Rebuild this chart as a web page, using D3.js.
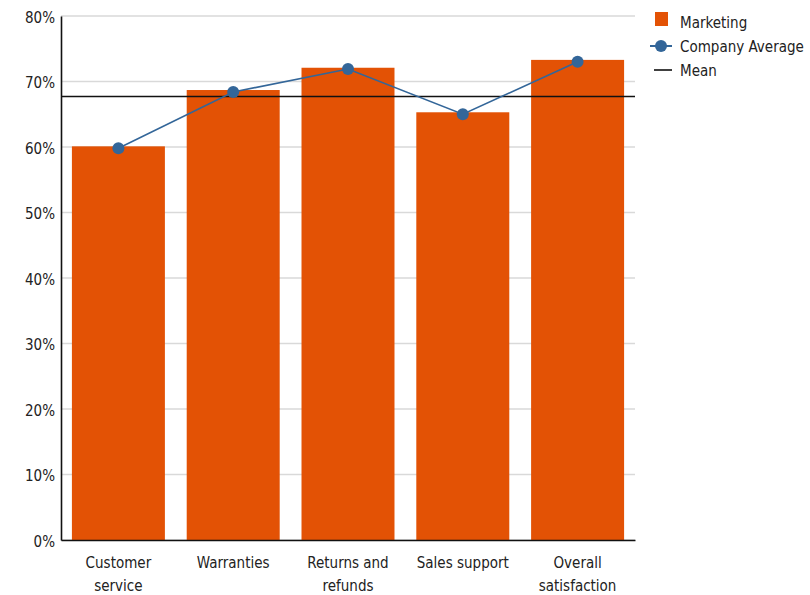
<!DOCTYPE html>
<html><head><meta charset="utf-8">
<script src="https://cdn.jsdelivr.net/npm/d3@7"></script>
<style>
body{margin:0;background:#fff;}
text{font-family:"DejaVu Sans Condensed","DejaVu Sans",sans-serif;font-stretch:condensed;fill:#222;}
</style></head><body>
<svg id="c" width="810" height="595"></svg>
<script>
const categories = [["Customer","service"],["Warranties"],["Returns and","refunds"],["Sales support"],["Overall","satisfaction"]];
const marketing = [60.1, 68.7, 72.1, 65.3, 73.3];
const companyAverage = [59.8, 68.4, 71.9, 65.0, 73.0];
const meanValue = 67.7;
const yTicks = [0,10,20,30,40,50,60,70,80];
const legendLabels = ["Marketing","Company Average","Mean"];

const svg = d3.select("#c");
const pL = 61, pR = 635, pT = 16, pB = 540;
const x = d3.scaleBand().domain(d3.range(categories.length)).range([pL,pR]).paddingInner(0.19).paddingOuter(0.095);
const y = d3.scaleLinear().domain([0,80]).range([pB,pT]);
const orange = "#e35205", blue = "#336699";

// grid
svg.append("g").selectAll("line").data(yTicks).join("line")
  .attr("x1",pL).attr("x2",pR).attr("y1",d=>y(d)).attr("y2",d=>y(d))
  .attr("stroke","#d9d9d9").attr("stroke-width",1.5);

// bars
svg.append("g").selectAll("rect").data(marketing).join("rect")
  .attr("x",(d,i)=>x(i)).attr("width",x.bandwidth())
  .attr("y",d=>y(d)).attr("height",d=>y(0)-y(d)).attr("fill",orange);

// mean line
svg.append("line").attr("x1",pL).attr("x2",pR).attr("y1",y(meanValue)).attr("y2",y(meanValue))
  .attr("stroke","#111").attr("stroke-width",1.6);

// company average line
const line = d3.line().x((d,i)=>x(i)+x.bandwidth()/2).y(d=>y(d));
svg.append("path").datum(companyAverage).attr("d",line).attr("fill","none").attr("stroke",blue).attr("stroke-width",1.6);
svg.append("g").selectAll("circle").data(companyAverage).join("circle")
  .attr("cx",(d,i)=>x(i)+x.bandwidth()/2).attr("cy",d=>y(d)).attr("r",6).attr("fill",blue);

// axes
const yAxis = svg.append("g").attr("transform",`translate(${pL},0)`)
  .call(d3.axisLeft(y).tickValues(yTicks).tickFormat(d=>d+"%").tickSize(0).tickPadding(6));
yAxis.select(".domain").attr("stroke","#111").attr("stroke-width",1.6);
yAxis.selectAll("text").attr("font-size",15).attr("dy","0.4em").style("font-family",'"DejaVu Sans Condensed","DejaVu Sans",sans-serif');

const xAxis = svg.append("g").attr("transform",`translate(0,${pB})`)
  .call(d3.axisBottom(x).tickSize(0).tickFormat(""));
xAxis.select(".domain").attr("stroke","#111").attr("stroke-width",1.6);
xAxis.selectAll(".tick").each(function(d){
  const g = d3.select(this);
  g.select("text").remove();
  const t = g.append("text").attr("text-anchor","middle").attr("font-size",15).attr("fill","#222");
  categories[d].forEach((s,k)=>t.append("tspan").attr("x",0).attr("y",28+k*23).text(s));
});

// legend
const lg = svg.append("g");
lg.append("rect").attr("x",655).attr("y",12).attr("width",13).attr("height",14).attr("fill",orange);
lg.append("line").attr("x1",650).attr("x2",672).attr("y1",46).attr("y2",46).attr("stroke",blue).attr("stroke-width",2);
lg.append("circle").attr("cx",661).attr("cy",46).attr("r",6).attr("fill",blue);
lg.append("line").attr("x1",654).attr("x2",672).attr("y1",70).attr("y2",70).attr("stroke","#111").attr("stroke-width",1.6);
lg.selectAll("text").data(legendLabels).join("text")
  .attr("x",680).attr("y",(d,i)=>28+i*24).attr("font-size",15).text(d=>d);
</script></body></html>
